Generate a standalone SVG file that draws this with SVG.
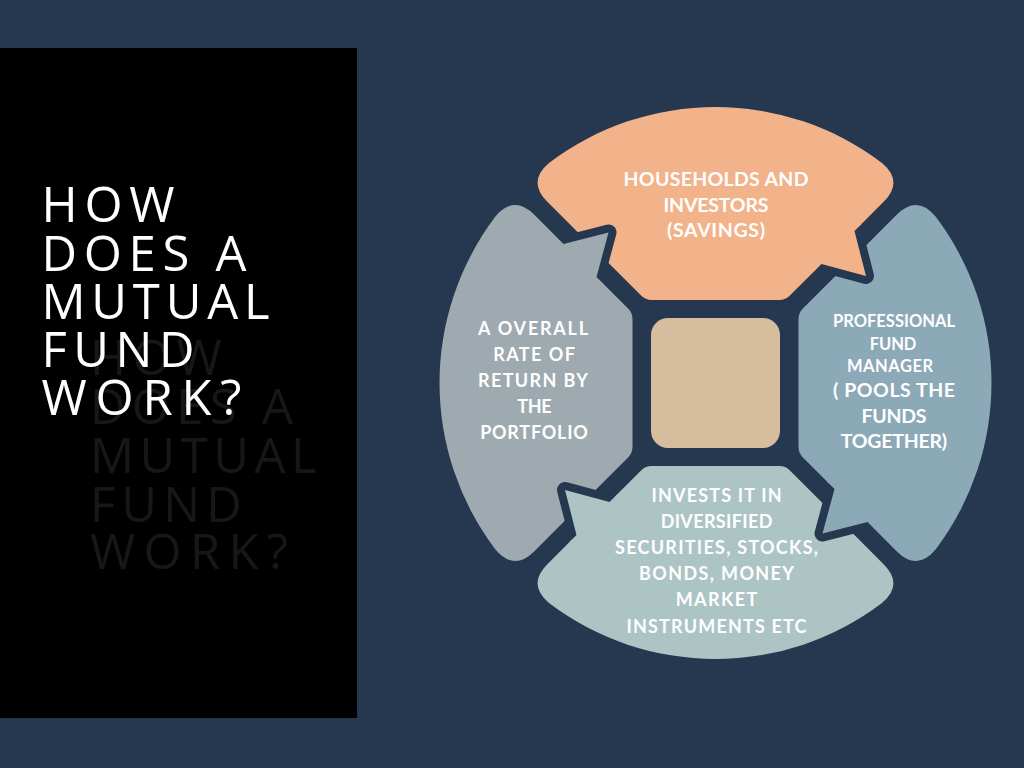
<svg xmlns="http://www.w3.org/2000/svg" width="1024" height="768" viewBox="0 0 1024 768">
<style>
.title{font-family:"Open Sans","Liberation Sans",sans-serif;font-size:49px;font-weight:400;}
.tw{fill:#ffffff}
.tg{fill:#171717}
.lbl{font-family:"Lato","Noto Sans","Liberation Sans",sans-serif;font-weight:700;fill:#ffffff;text-anchor:middle;}
.s19{font-size:19.5px}
.s18{font-size:18px}
.s16{font-size:16.5px}
.tailline{fill:none;stroke:#26384F;stroke-width:16;stroke-linejoin:round;stroke-linecap:round}
</style>
<defs>
<path id="piece" d="M -168.15,-181.15 Q -188.55,-201.55 -166.5,-220.1 A 276 276 0 0 1 166.5,-220.1 Q 188.55,-201.55 168.15,-181.15 L 139,-152 L 150.5,-107 L 106,-119 L 74.4,-87.4 Q 70,-83 63.8,-83 L -63.8,-83 Q -70,-83 -74.4,-87.4 Z"/>
<path id="tailline" d="M 139,-152 L 150.5,-107 L 106,-119"/>
<path id="tailfix" d="M 150.5,-107 L 139,-152 L 146.1,-159.1 L 136.2,-169 L 89,-121.8 L 98.9,-111.9 L 106,-119 Z"/>
</defs>
<rect x="0" y="0" width="1024" height="768" fill="#26384F"/>
<g id="title-panel">
<rect x="0" y="48" width="357" height="670" fill="#000000"/>
<g class="title tg">
<text x="90" y="374.5" textLength="131.7" lengthAdjust="spacing">HOW</text>
<text x="90" y="424" textLength="203" lengthAdjust="spacing">DOES A</text>
<text x="90" y="473" textLength="226.7" lengthAdjust="spacing">MUTUAL</text>
<text x="90" y="521.5" textLength="151.7" lengthAdjust="spacing">FUND</text>
<text x="90" y="569" textLength="198" lengthAdjust="spacing">WORK?</text>
</g>
<g class="title tw">
<text x="41.5" y="222" textLength="133" lengthAdjust="spacing">HOW</text>
<text x="41.5" y="270.5" textLength="205" lengthAdjust="spacing">DOES A</text>
<text x="41.5" y="318.5" textLength="228" lengthAdjust="spacing">MUTUAL</text>
<text x="41.5" y="366.5" textLength="153" lengthAdjust="spacing">FUND</text>
<text x="41.5" y="415" textLength="200" lengthAdjust="spacing">WORK?</text>
</g>
</g>
<g id="node-center">
<rect x="651" y="318" width="129" height="130" rx="17" fill="#D6BD9D"/>
</g>
<g id="node-households">
<use href="#piece" transform="translate(715.5,383)" fill="#F2B28A"/>
<text class="lbl s19" x="716" y="186" textLength="185" lengthAdjust="spacing">HOUSEHOLDS AND</text>
<text class="lbl s19" x="716" y="211.5" textLength="105" lengthAdjust="spacing">INVESTORS</text>
<text class="lbl s19" x="716" y="237" textLength="98" lengthAdjust="spacing">(SAVINGS)</text>
</g>
<g id="node-manager">
<use href="#piece" transform="translate(715.5,383) rotate(90)" fill="#8CA9B7"/>
<text class="lbl s16" x="894" y="327" textLength="122" lengthAdjust="spacing">PROFESSIONAL</text>
<text class="lbl s16" x="893" y="349.5" textLength="46.7" lengthAdjust="spacing">FUND</text>
<text class="lbl s16" x="890" y="372" textLength="86" lengthAdjust="spacing">MANAGER</text>
<text class="lbl s19" x="894" y="397" textLength="122" lengthAdjust="spacing">( POOLS THE</text>
<text class="lbl s19" x="894" y="422.5" textLength="65" lengthAdjust="spacing">FUNDS</text>
<text class="lbl s19" x="894" y="447.5" textLength="106.3" lengthAdjust="spacing">TOGETHER)</text>
</g>
<g id="node-invests">
<use href="#piece" transform="translate(715.5,383) rotate(180)" fill="#ADC4C5"/>
<text class="lbl s18" x="716.5" y="502" textLength="130" lengthAdjust="spacing">INVESTS IT IN</text>
<text class="lbl s18" x="716.5" y="528" textLength="111.7" lengthAdjust="spacing">DIVERSIFIED</text>
<text class="lbl s18" x="716.5" y="554" textLength="203" lengthAdjust="spacing">SECURITIES, STOCKS,</text>
<text class="lbl s18" x="716.5" y="580" textLength="155" lengthAdjust="spacing">BONDS, MONEY</text>
<text class="lbl s18" x="716.5" y="606" textLength="81.7" lengthAdjust="spacing">MARKET</text>
<text class="lbl s18" x="716.5" y="632.5" textLength="180" lengthAdjust="spacing">INSTRUMENTS ETC</text>
</g>
<g id="node-return">
<use href="#piece" transform="translate(715.5,383) rotate(270)" fill="#9EAAAF"/>
<text class="lbl s18" x="533" y="335" textLength="110" lengthAdjust="spacing">A OVERALL</text>
<text class="lbl s18" x="534" y="361" textLength="81.7" lengthAdjust="spacing">RATE OF</text>
<text class="lbl s18" x="533" y="387" textLength="110" lengthAdjust="spacing">RETURN BY</text>
<text class="lbl s18" x="534.5" y="413" textLength="34.4" lengthAdjust="spacing">THE</text>
<text class="lbl s18" x="534" y="439" textLength="107.7" lengthAdjust="spacing">PORTFOLIO</text>
</g>
<g id="connectors">
<use href="#tailline" class="tailline" transform="translate(715.5,383)"/>
<use href="#tailline" class="tailline" transform="translate(715.5,383) rotate(90)"/>
<use href="#tailline" class="tailline" transform="translate(715.5,383) rotate(180)"/>
<use href="#tailline" class="tailline" transform="translate(715.5,383) rotate(270)"/>
<use href="#tailfix" transform="translate(715.5,383)" fill="#F2B28A"/>
<use href="#tailfix" transform="translate(715.5,383) rotate(90)" fill="#8CA9B7"/>
<use href="#tailfix" transform="translate(715.5,383) rotate(180)" fill="#ADC4C5"/>
<use href="#tailfix" transform="translate(715.5,383) rotate(270)" fill="#9EAAAF"/>
</g>
</svg>
